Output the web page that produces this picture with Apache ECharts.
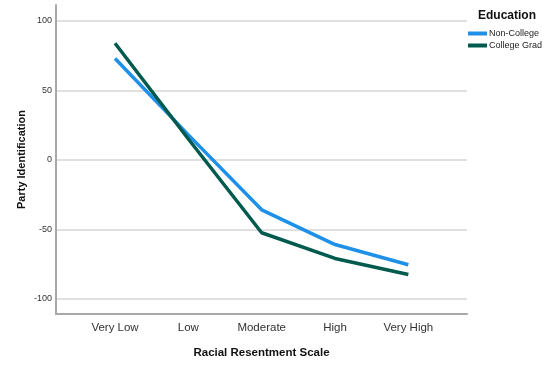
<!DOCTYPE html>
<html>
<head>
<meta charset="utf-8">
<script src="https://cdn.jsdelivr.net/npm/echarts@6/dist/echarts.min.js"></script>
<style>html,body{margin:0;padding:0;background:#fff}#c{width:560px;height:368px}</style>
</head>
<body>
<div id="c"></div>
<script>
var categories = ['Very Low', 'Low', 'Moderate', 'High', 'Very High'];
var nonCollege = [73, 18, -36, -61, -75.5];
var collegeGrad = [84, 15, -52.5, -71, -82.5];
var yTicks = [-100, -50, 0, 50, 100];
var seriesNames = ['Non-College', 'College Grad'];

var chart = echarts.init(document.getElementById('c'), null, {renderer: 'canvas'});
var font = 'Liberation Sans, Arial, sans-serif';
chart.setOption({
  animation: false,
  backgroundColor: '#fff',
  textStyle: {fontFamily: font},
  title: {
    text: 'Education', left: 473, top: 5,
    textStyle: {fontSize: 12, fontWeight: 'bold', color: '#111', fontFamily: font}
  },
  legend: {
    orient: 'vertical', left: 463, top: 24, itemGap: 3,
    itemWidth: 19, itemHeight: 4, icon: 'rect',
    textStyle: {fontSize: 9, color: '#222', fontFamily: font, padding: [0,0,0,-3]},
    data: seriesNames
  },
  grid: {left: 56, right: 93, top: 5, bottom: 54, containLabel: false},
  xAxis: {
    type: 'value', min: -0.805, max: 4.8,
    axisLine: {show: true, onZero: false, lineStyle: {color: '#a8a8a8', width: 2}},
    axisTick: {show: false},
    splitLine: {show: false},
    axisLabel: {
      customValues: [0, 1, 2, 3, 4], margin: 8,
      fontSize: 11.5, color: '#333', fontFamily: font,
      formatter: function (v) { return categories[Math.round(v)] || ''; }
    },
    name: 'Racial Resentment Scale', nameLocation: 'middle', nameGap: 33,
    nameTextStyle: {fontSize: 11.5, fontWeight: 'bold', color: '#111', fontFamily: font}
  },
  yAxis: {
    type: 'value', min: -111, max: 111.5,
    axisLine: {show: true, onZero: false, lineStyle: {color: '#a8a8a8', width: 2}},
    axisTick: {show: false, customValues: yTicks},
    splitLine: {show: true, lineStyle: {color: '#d6d6d6', width: 1.5}},
    axisLabel: {customValues: yTicks, fontSize: 9, color: '#333', margin: 4, fontFamily: font},
    name: 'Party Identification', nameLocation: 'middle', nameGap: 29, nameMoveOverlap: false,
    nameTextStyle: {fontSize: 11, fontWeight: 'bold', color: '#111', fontFamily: font}
  },
  series: [
    {
      name: seriesNames[0], type: 'line', symbol: 'none',
      lineStyle: {width: 3.5, color: '#1e90e8'}, itemStyle: {color: '#1e90e8'},
      data: nonCollege.map(function (v, i) { return [i, v]; })
    },
    {
      name: seriesNames[1], type: 'line', symbol: 'none',
      lineStyle: {width: 3.5, color: '#005a4e'}, itemStyle: {color: '#005a4e'},
      data: collegeGrad.map(function (v, i) { return [i, v]; })
    }
  ]
});
</script>
</body>
</html>
